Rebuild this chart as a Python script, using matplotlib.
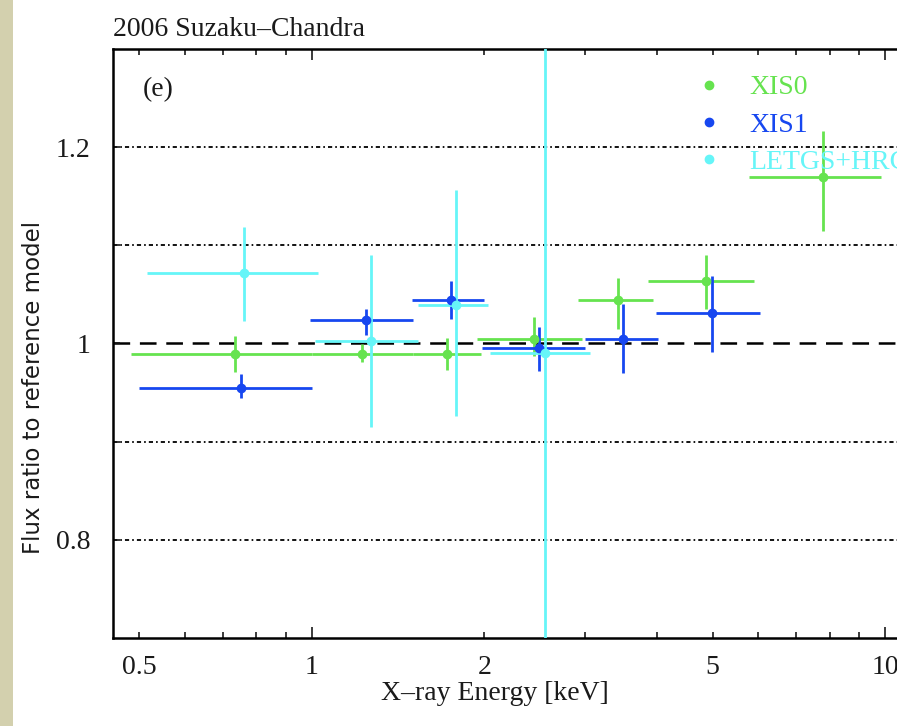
import numpy as np
import matplotlib
matplotlib.use('Agg')
import matplotlib.pyplot as plt
from matplotlib.lines import Line2D
from matplotlib.patches import Rectangle
from matplotlib.ticker import FixedLocator, FuncFormatter, NullFormatter

plt.rcParams['font.family'] = ['Liberation Serif', 'DejaVu Serif']
plt.rcParams['font.size'] = 20
plt.rcParams['lines.scale_dashes'] = False

# XIS0
xis0_e = np.array([0.735, 1.224, 1.72, 2.445, 3.42, 4.87, 7.80])
xis0_elo = np.array([0.484, 1.0, 1.5, 1.94, 2.91, 3.86, 5.79])
xis0_ehi = np.array([1.0, 1.5, 1.97, 2.96, 3.93, 5.91, 9.84])
xis0_r = np.array([0.989, 0.989, 0.989, 1.005, 1.0445, 1.0635, 1.170])
xis0_rlo = np.array([0.971, 0.981, 0.973, 0.987, 1.015, 1.035, 1.115])
xis0_rhi = np.array([1.008, 0.999, 1.006, 1.027, 1.0665, 1.090, 1.216])

# XIS1
xis1_e = np.array([0.752, 1.243, 1.748, 2.495, 3.49, 4.99])
xis1_elo = np.array([0.50, 0.993, 1.497, 1.98, 3.0, 3.98])
xis1_ehi = np.array([1.0, 1.503, 2.0, 3.0, 4.02, 6.04])
xis1_r = np.array([0.955, 1.0236, 1.0448, 0.995, 1.005, 1.031])
xis1_rlo = np.array([0.944, 1.0084, 1.0253, 0.9724, 0.970, 0.991])
xis1_rhi = np.array([0.969, 1.0354, 1.064, 1.0169, 1.040, 1.069])

# LETGS+HRC
letg_e = np.array([0.763, 1.269, 1.785, 2.553])
letg_elo = np.array([0.516, 1.013, 1.533, 2.047])
letg_ehi = np.array([1.024, 1.534, 2.03, 3.06])
letg_r = np.array([1.0716, 1.003, 1.0395, 0.990])
letg_rlo = np.array([1.0226, 0.915, 0.926, 0.55])
letg_rhi = np.array([1.1187, 1.090, 1.156, 1.45])

series = [
    ('XIS0', '#66e34f', xis0_e, xis0_elo, xis0_ehi, xis0_r, xis0_rlo, xis0_rhi),
    ('XIS1', '#1747f0', xis1_e, xis1_elo, xis1_ehi, xis1_r, xis1_rlo, xis1_rhi),
    ('LETGS+HRC', '#66f5f8', letg_e, letg_elo, letg_ehi, letg_r, letg_rlo, letg_rhi),
]

xmin, xmax = 0.45, 12.0
ymin, ymax = 0.7, 1.3
grid_levels = [0.8, 0.9, 1.1, 1.2]

fig = plt.figure(figsize=(8.97, 7.26), dpi=100)
# beige page edge on the left
fig.patches.append(Rectangle((0, 0), 13 / 897, 1, transform=fig.transFigure,
                             facecolor='#d3d0ae', edgecolor='none'))

decade_px = 573.3
w = decade_px * np.log10(xmax / xmin) / 897
ax = fig.add_axes([113 / 897, 1 - 638 / 726, w, 589 / 726])
ax.set_xscale('log')
ax.set_xlim(xmin, xmax)
ax.set_ylim(ymin, ymax)

for lev in grid_levels:
    ax.axhline(lev, color='black', lw=1.3, linestyle=(0, (3, 2.2, 1.2, 2.2)), zorder=1)
ax.axhline(1.0, color='black', lw=1.8, dashes=(12, 7), zorder=1)

handles = []
for name, col, e, elo, ehi, r, rlo, rhi in series:
    ax.errorbar(e, r, xerr=[e - elo, ehi - e], yerr=[r - rlo, rhi - r],
                fmt='o', ms=6, color=col, ecolor=col, elinewidth=2.0,
                capsize=0, zorder=3)
    handles.append(Line2D([], [], marker='o', ms=6, color=col, linestyle='none'))

leg = ax.legend(handles, [s[0] for s in series], loc='upper left',
                bbox_to_anchor=(0.716, 0.956), frameon=False, fontsize=20,
                handlelength=0.8, handletextpad=1.02, labelspacing=0.43,
                borderpad=0, borderaxespad=0)
for txt, s in zip(leg.get_texts(), series):
    txt.set_color(s[1])

# x ticks
ax.xaxis.set_major_locator(FixedLocator([1, 10]))
ax.xaxis.set_minor_locator(FixedLocator([0.5, 0.6, 0.7, 0.8, 0.9, 2, 3, 4, 5, 6, 7, 8, 9]))
ax.xaxis.set_major_formatter(FuncFormatter(lambda v, p: '%g' % v))
ax.xaxis.set_minor_formatter(FuncFormatter(lambda v, p: '%g' % v if v in (0.5, 2, 5) else ''))
ax.tick_params(axis='x', which='both', direction='in', top=True, bottom=True,
               pad=12, labelsize=20, width=1.2, colors='#1a1a1a')
ax.tick_params(axis='x', which='major', length=8)
ax.tick_params(axis='x', which='minor', length=4.5)

# y ticks
ax.yaxis.set_major_locator(FixedLocator([0.8, 1.0, 1.2]))
ax.yaxis.set_minor_locator(FixedLocator([0.9, 1.1]))
ax.yaxis.set_major_formatter(FuncFormatter(lambda v, p: '%g' % v))
ax.yaxis.set_minor_formatter(NullFormatter())
ax.tick_params(axis='y', which='both', direction='in', left=True, right=False,
               length=5, width=1.2, pad=16, labelsize=20, colors='#1a1a1a')

for sp in ax.spines.values():
    sp.set_linewidth(1.8)

ax.set_title('2006 Suzaku\u2013Chandra', loc='left', fontsize=20, pad=9, color='#1a1a1a')
ax.text(0.037, 0.931, '(e)', transform=ax.transAxes, fontsize=20,
        va='center', ha='left', color='#1a1a1a')

fig.text(495 / 897, 1 - 693 / 726, 'X\u2013ray Energy [keV]', ha='center', va='center',
         fontsize=20, color='#1a1a1a')
fig.text(33 / 897, 1 - 387 / 726, 'Flux ratio to reference model', rotation=90,
         ha='center', va='center', fontsize=16.5, family=['DejaVu Sans'], color='#1a1a1a')

fig.savefig('out.png', dpi=100)
